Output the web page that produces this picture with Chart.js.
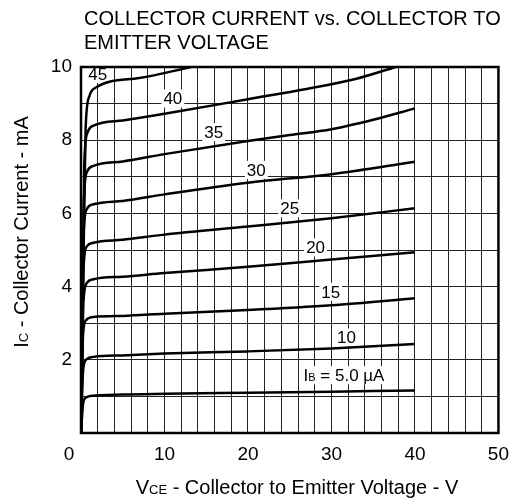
<!DOCTYPE html>
<html>
<head>
<meta charset="utf-8">
<script src="https://cdn.jsdelivr.net/npm/chart.js@4"></script>
<style>
  body { margin: 0; background: #fff; }
  #wrap { width: 519px; height: 503px; position: relative; }
</style>
</head>
<body>
<div id="wrap"><canvas id="ic"></canvas></div>
<script>
// Collector characteristics, [VCE (V), IC (mA)]
const ib5  = [[0,0],[0.25,0.8],[0.6,0.97],[1.5,1.02],[5,1.05],[10,1.07],[20,1.10],[30,1.13],[40,1.16]];
const ib10 = [[0,0],[0.25,1.7],[0.6,2.0],[1.5,2.08],[5,2.12],[10,2.17],[20,2.23],[30,2.31],[40,2.43]];
const ib15 = [[0,0],[0.25,2.7],[0.6,3.08],[1.5,3.17],[5,3.2],[10,3.26],[20,3.36],[30,3.49],[40,3.68]];
const ib20 = [[0,0],[0.3,3.6],[0.7,4.1],[1.5,4.2],[5,4.27],[10,4.37],[20,4.54],[30,4.74],[40,4.94]];
const ib25 = [[0,0],[0.3,4.5],[0.7,5.1],[1.5,5.2],[5,5.28],[10,5.42],[20,5.64],[30,5.87],[40,6.14]];
const ib30 = [[0,0],[0.3,5.4],[0.7,6.12],[1.5,6.25],[5,6.34],[10,6.52],[20,6.84],[30,7.07],[40,7.41]];
const ib35 = [[0,0],[0.35,6.4],[0.75,7.15],[1.5,7.3],[5,7.42],[10,7.62],[20,7.98],[25,8.14],[30,8.3],[35,8.56],[40,8.87]];
const ib40 = [[0,0],[0.4,7.4],[0.8,8.22],[1.5,8.4],[5,8.54],[10,8.72],[20,9.12],[27,9.4],[33,9.68],[37.7,10]];
const ib45 = [[0,0],[0.55,8.3],[1.0,9.2],[1.5,9.4],[7,9.7],[13.2,10]];
const curves = [ib5, ib10, ib15, ib20, ib25, ib30, ib35, ib40, ib45];

// curve labels (IB in uA) and where they sit, in data units
const labelText = ['5.0', '10', '15', '20', '25', '30', '35', '40', '45'];
const labelV = [31.5, 31.8, 29.9, 28.1, 25.0, 21.0, 15.9, 11.0, 2.0];
const labelI = [1.58, 2.61, 3.86, 5.07, 6.14, 7.19, 8.22, 9.14, 9.81];

const xTicks = [10, 20, 30, 40, 50];
const yTicks = [2, 4, 6, 8, 10];

const FONT = '"Liberation Sans", Arial, sans-serif';

// draw text runs with subscripts, centered on x
function drawRuns(ctx, runs, x, y) {
  let w = 0;
  runs.forEach(r => { ctx.font = r.size + 'px ' + FONT; w += ctx.measureText(r.t).width; });
  let cx = x - w / 2;
  runs.forEach(r => {
    ctx.font = r.size + 'px ' + FONT;
    ctx.fillText(r.t, cx, y);
    cx += ctx.measureText(r.t).width;
  });
  return w;
}

const annotate = {
  id: 'annotate',
  beforeDatasetsDraw(chart) {
    const ctx = chart.ctx, xs = chart.scales.x, ys = chart.scales.y;
    ctx.save();
    ctx.textBaseline = 'alphabetic';
    labelText.forEach((t, i) => {
      const px = xs.getPixelForValue(labelV[i]);
      const py = ys.getPixelForValue(labelI[i]);
      let runs;
      if (t === '5.0') runs = [{t: 'I', size: 17}, {t: 'B', size: 11}, {t: ' = 5.0 \u00b5A', size: 17}];
      else runs = [{t: t, size: 17}];
      let w = 0;
      runs.forEach(r => { ctx.font = r.size + 'px ' + FONT; w += ctx.measureText(r.t).width; });
      ctx.fillStyle = '#fff';
      ctx.fillRect(px - w / 2 - 2, py - 9, w + 4, 18);
      ctx.fillStyle = '#000';
      drawRuns(ctx, runs, px, py + 6);
    });
    ctx.restore();
  },
  afterDraw(chart) {
    const ctx = chart.ctx, a = chart.chartArea, xs = chart.scales.x;
    ctx.save();
    ctx.strokeStyle = '#000';
    ctx.lineWidth = 2.5;
    ctx.strokeRect(a.left, a.top, a.right - a.left, a.bottom - a.top);

    ctx.fillStyle = '#000';
    ctx.textBaseline = 'alphabetic';
    ctx.textAlign = 'left';
    ctx.font = '20px ' + FONT;
    ctx.fillText('COLLECTOR CURRENT vs. COLLECTOR TO', 84, 25);
    ctx.fillText('EMITTER VOLTAGE', 84, 49);

    // origin label sits left of the corner
    ctx.font = '19px ' + FONT;
    ctx.textAlign = 'center';
    ctx.fillText('0', xs.getPixelForValue(0) - 12, 460);
    ctx.textAlign = 'left';

    drawRuns(ctx, [{t: 'V', size: 20}, {t: 'CE', size: 13}, {t: ' - Collector to Emitter Voltage - V', size: 20}], 297, 494);

    ctx.translate(28, 232);
    ctx.rotate(-Math.PI / 2);
    drawRuns(ctx, [{t: 'I', size: 20}, {t: 'C', size: 13}, {t: ' - Collector Current - mA', size: 20}], 0, 0);
    ctx.restore();
  }
};

new Chart(document.getElementById('ic'), {
  type: 'line',
  data: {
    datasets: curves.map(c => ({
      data: c.map(p => ({x: p[0], y: p[1]})),
      borderColor: '#000',
      borderWidth: 2.5,
      pointRadius: 0,
      fill: false,
      cubicInterpolationMode: 'monotone'
    }))
  },
  options: {
    responsive: true,
    maintainAspectRatio: false,
    animation: false,
    layout: { padding: { top: 67, right: 19, left: 0, bottom: 0 } },
    plugins: { legend: { display: false }, tooltip: { enabled: false }, title: { display: false } },
    scales: {
      x: {
        type: 'linear', min: 0, max: 50,
        afterFit(s) { s.height = 70; },
        grid: { color: '#222', lineWidth: 1, drawTicks: false },
        border: { display: false },
        ticks: {
          stepSize: 2, autoSkip: false, maxRotation: 0, padding: 10,
          color: '#000', font: { family: FONT, size: 19 },
          callback: v => xTicks.includes(v) ? String(v) : ''
        }
      },
      y: {
        type: 'linear', min: 0, max: 10,
        afterFit(s) { s.width = 81; },
        grid: { color: '#222', lineWidth: 1, drawTicks: false },
        border: { display: false },
        ticks: {
          stepSize: 1, autoSkip: false, padding: 9,
          color: '#000', font: { family: FONT, size: 19 },
          callback: v => yTicks.includes(v) ? String(v) : ''
        }
      }
    }
  },
  plugins: [annotate]
});
</script>
</body>
</html>
